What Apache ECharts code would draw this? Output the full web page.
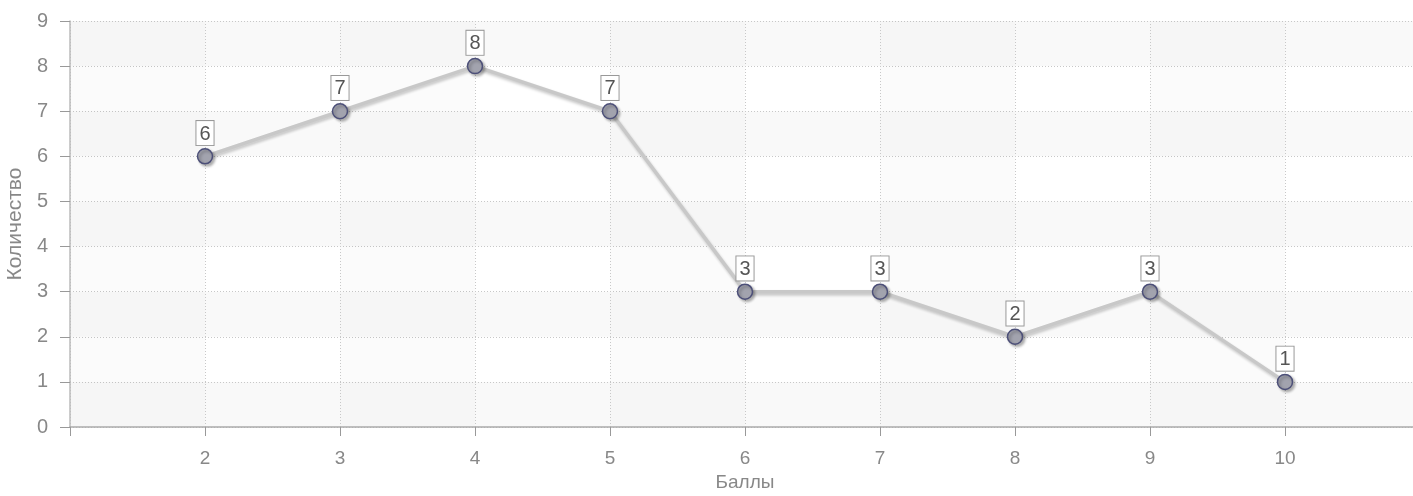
<!DOCTYPE html>
<html><head><meta charset="utf-8">
<script src="https://cdn.jsdelivr.net/npm/echarts@6/dist/echarts.min.js"></script>
<style>html,body{margin:0;padding:0;background:#fff}#c{width:1413px;height:496px}</style>
</head><body><div id="c"></div>
<script>
const scores = [2, 3, 4, 5, 6, 7, 8, 9, 10];
const counts = [6, 7, 8, 7, 3, 3, 2, 3, 1];
const xTitle = 'Баллы';
const yTitle = 'Количество';

const chart = echarts.init(document.getElementById('c'));
const font = 'Arial, "Liberation Sans", sans-serif';
chart.setOption({
  animation: false,
  grid: { left: 70, top: 21, bottom: 69, width: 1350, containLabel: false, outerBoundsMode: 'none' },
  xAxis: {
    type: 'value', min: 1, max: 11, interval: 1,
    name: xTitle, nameLocation: 'middle', nameGap: 44,
    nameTextStyle: { color: '#888', fontSize: 19, fontFamily: font },
    axisLine: { lineStyle: { color: '#aaa', width: 1.5 } },
    axisTick: { show: true, length: 9, lineStyle: { color: '#999' } },
    axisLabel: { color: '#888', fontSize: 19, fontFamily: font, margin: 22,
      formatter: v => (v >= 2 && v <= 10) ? String(v) : '' },
    splitLine: { show: true, lineStyle: { color: '#c8c8c8', type: [1, 2] } },
    splitArea: { show: true, areaStyle: { color: ['rgba(0,0,0,0.015)', 'rgba(0,0,0,0)'] } }
  },
  yAxis: {
    type: 'value', min: 0, max: 9, interval: 1,
    name: yTitle, nameLocation: 'middle', nameGap: 37,
    nameTextStyle: { color: '#888', fontSize: 21, fontFamily: font },
    axisLine: { show: true, lineStyle: { color: '#bbb', width: 1.5 } },
    axisTick: { show: true, length: 10, lineStyle: { color: '#999' } },
    axisLabel: { color: '#888', fontSize: 20, fontFamily: font, margin: 22 },
    splitLine: { show: true, lineStyle: { color: '#c8c8c8', type: [1, 2] } },
    splitArea: { show: true, areaStyle: { color: ['rgba(0,0,0,0.022)', 'rgba(0,0,0,0)'] } }
  },
  series: [{
    type: 'line',
    data: scores.map((s, i) => [s, counts[i]]),
    symbol: 'circle', symbolSize: 15,
    itemStyle: { color: '#a2a3ae', borderColor: '#4c4f78', borderWidth: 1.5,
      shadowColor: 'rgba(0,0,0,0.3)', shadowBlur: 3, shadowOffsetX: 2, shadowOffsetY: 2 },
    lineStyle: { color: '#c8c8c8', width: 3.5,
      shadowColor: 'rgba(0,0,0,0.22)', shadowBlur: 3, shadowOffsetX: 1, shadowOffsetY: 2 },
    label: { show: true, position: 'top', distance: 3, color: '#555', fontSize: 20, fontFamily: font,
      backgroundColor: '#fff', borderColor: '#999', borderWidth: 1, padding: [3, 3, 1, 3] }
  }]
});
</script></body></html>
